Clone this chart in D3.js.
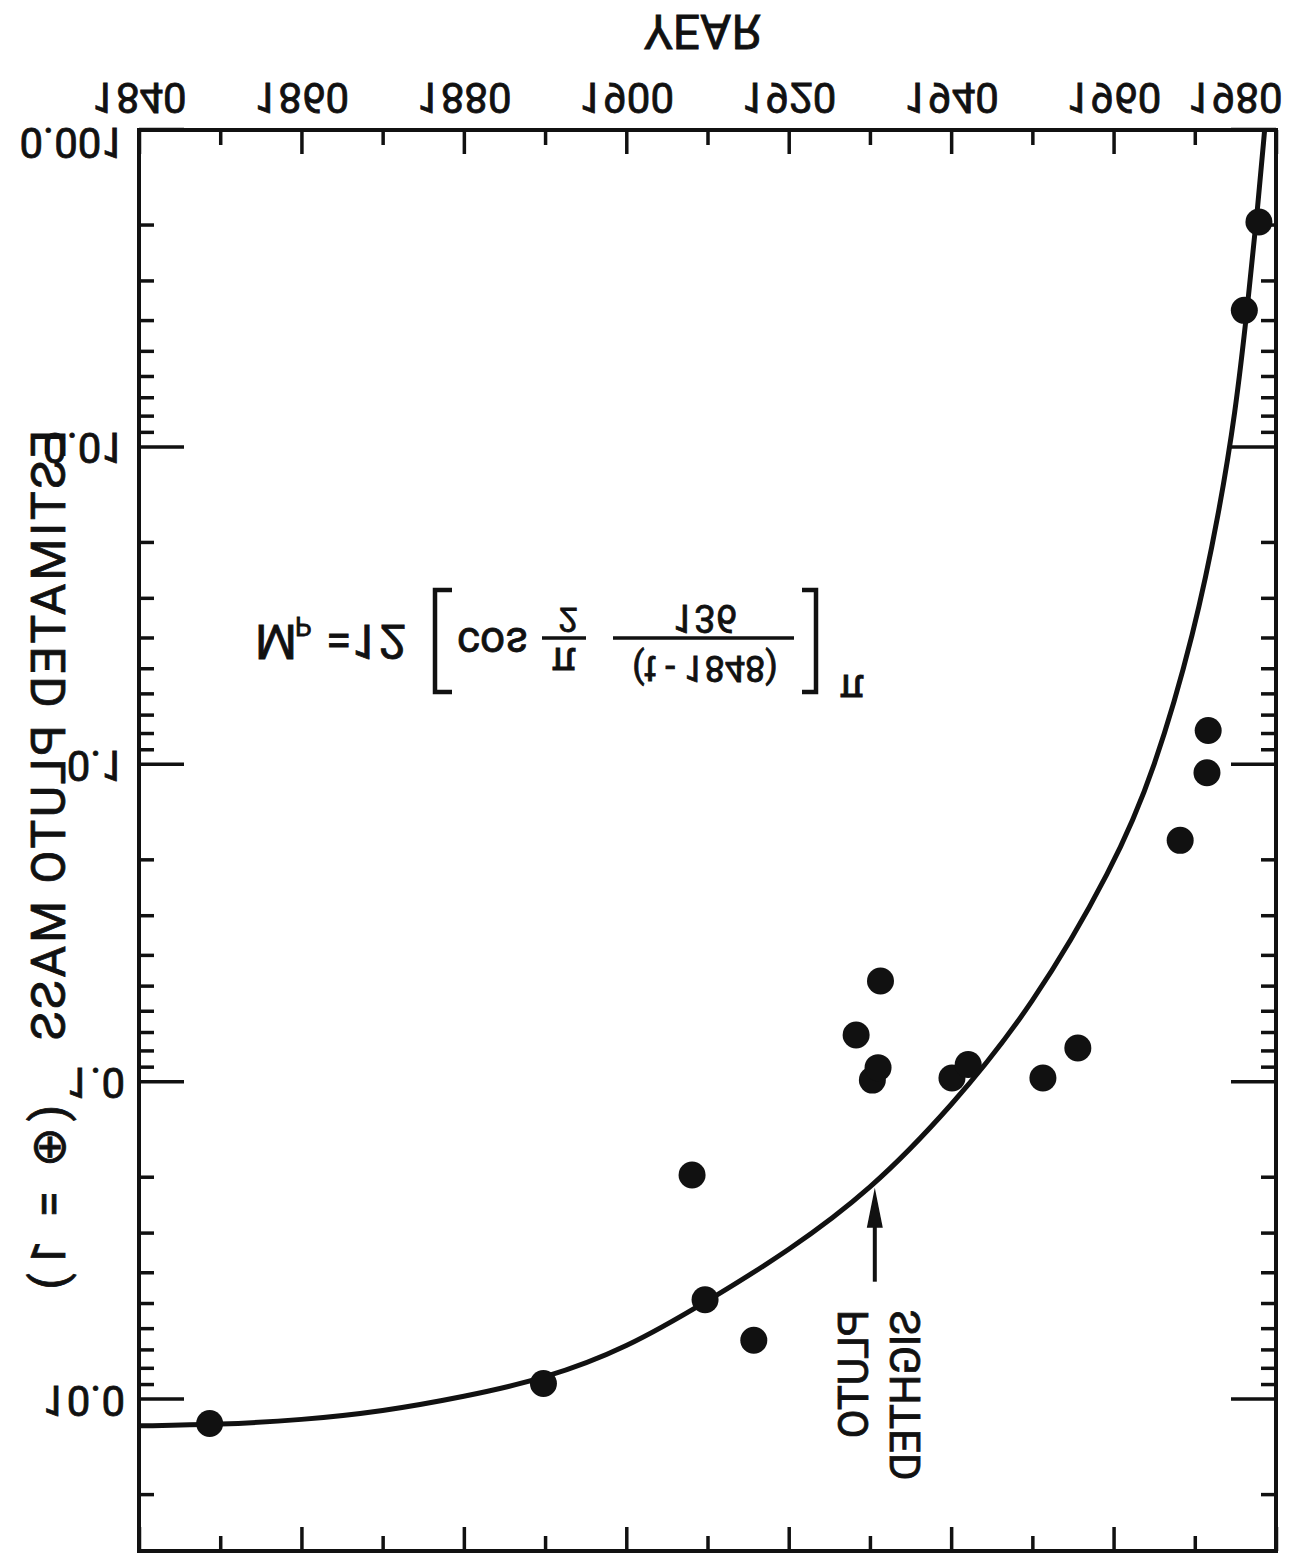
<!DOCTYPE html>
<html>
<head>
<meta charset="UTF-8" />
<style>
    body { margin: 0; padding: 0; background: #fff; }
    svg { display: block; background: #fff; }
    text { font-family: Roboto, "Liberation Sans", Arial, sans-serif; fill: #111; stroke: #111; stroke-width: 0.8px; }
    .frame { fill: none; stroke: #111; stroke-width: 4px; }
    .fit { fill: none; stroke: #111; stroke-width: 5px; }
    .tick line { stroke: #111; stroke-width: 3.5px; }
</style>
<title>Pluto mass</title>
</head>
<body>
<svg width="1300" height="1566"></svg>
<script src="https://d3js.org/d3.v7.min.js"></script>
<script>
    // published estimates of Pluto's mass (earth = 1)
    const estYears = [1848.7, 1889.8, 1908.1, 1909.7, 1915.7, 1928.3, 1930.3, 1931.0, 1931.3,
        1940.1, 1942.1, 1951.3, 1955.6, 1968.2, 1971.5, 1971.65, 1976.1, 1977.9];
    const estMass = [11.9, 8.9, 1.96, 4.85, 6.5, 0.71, 0.985, 0.90, 0.48,
        0.97, 0.88, 0.97, 0.78, 0.173, 0.106, 0.078, 0.0037, 0.00195];

    // the drawn fit curve
    const fitYears = [1840, 1850, 1860, 1870, 1880, 1890, 1900, 1910, 1920, 1930,
        1940, 1950, 1960, 1965, 1970, 1973, 1975, 1976.5, 1977.8, 1978.6];
    const fitMass = [12.1, 12.0, 11.6, 10.9, 9.8, 8.6, 6.9, 4.9, 3.4, 2.2,
        1.2, 0.58, 0.21, 0.105, 0.038, 0.016, 0.0078, 0.0036, 0.0017, 0.001];

    const yearTicks = [1840, 1860, 1880, 1900, 1920, 1940, 1960, 1980];
    const minorYears = [1850, 1870, 1890, 1910, 1930, 1950, 1970];
    const decadeTicks = [0.001, 0.01, 0.1, 1, 10];
    const decadeLabels = ["0.001", "0.01", "0.1", "1.0", "10.0"];

    // where the arrow meets the curve
    const sighted = { year: 1930.6, mass: 2.15 };

    const W = 1300, H = 1566;
    const svg = d3.select("svg");

    // the scan is mirrored top to bottom, so draw the chart the normal way
    // and flip the whole thing
    const g = svg.append("g").attr("transform", `translate(0,${H}) scale(1,-1)`);

    const pL = 139, pR = 1276, pT = 15, pB = 1436;
    const x = d3.scaleLinear().domain([1840, 1980]).range([pL, pR]);
    const y = d3.scaleLog().domain([0.001, 30]).range([pB, pT]);

    const minorMass = y.ticks().filter(d => !decadeTicks.includes(d) && d < 30);

    function styleAxis(sel) {
        sel.select(".domain").remove();
        sel.attr("font-size", 42).attr("font-family", null);
    }

    // x axis along the (original) bottom, with labels
    g.append("g").attr("transform", `translate(0,${pB})`)
        .call(d3.axisBottom(x).tickValues(yearTicks).tickSizeInner(-24).tickSizeOuter(0)
            .tickPadding(17).tickFormat(d3.format("d")))
        .call(styleAxis)
        .selectAll(".tick text")
        .filter(d => d === 1980)
        .attr("text-anchor", "end").attr("x", 6);

    g.append("g").attr("transform", `translate(0,${pB})`)
        .call(d3.axisBottom(x).tickValues(minorYears).tickSizeInner(-15).tickSizeOuter(0).tickFormat(""))
        .call(styleAxis);

    // opposite edge, ticks only
    g.append("g").attr("transform", `translate(0,${pT})`)
        .call(d3.axisTop(x).tickValues(yearTicks).tickSizeInner(-24).tickSizeOuter(0).tickFormat(""))
        .call(styleAxis);
    g.append("g").attr("transform", `translate(0,${pT})`)
        .call(d3.axisTop(x).tickValues(minorYears).tickSizeInner(-15).tickSizeOuter(0).tickFormat(""))
        .call(styleAxis);

    // mass axis, log
    const yAx = g.append("g").attr("transform", `translate(${pL},0)`)
        .call(d3.axisLeft(y).tickValues(decadeTicks).tickSizeInner(-45).tickSizeOuter(0)
            .tickPadding(14).tickFormat((d, i) => decadeLabels[i]))
        .call(styleAxis);
    yAx.selectAll(".tick text").filter(d => d === 0.001).attr("y", -12);

    g.append("g").attr("transform", `translate(${pL},0)`)
        .call(d3.axisLeft(y).tickValues(minorMass).tickSizeInner(-15).tickSizeOuter(0).tickFormat(""))
        .call(styleAxis);

    g.append("g").attr("transform", `translate(${pR},0)`)
        .call(d3.axisRight(y).tickValues(decadeTicks).tickSizeInner(-45).tickSizeOuter(0).tickFormat(""))
        .call(styleAxis);
    g.append("g").attr("transform", `translate(${pR},0)`)
        .call(d3.axisRight(y).tickValues(minorMass).tickSizeInner(-15).tickSizeOuter(0).tickFormat(""))
        .call(styleAxis);

    g.append("rect").attr("class", "frame")
        .attr("x", pL).attr("y", pT)
        .attr("width", pR - pL).attr("height", pB - pT);

    // axis titles
    g.append("text")
        .attr("x", (pL + pR) / 2 - 5).attr("y", 1551)
        .attr("text-anchor", "middle").attr("font-size", 48)
        .text("YEAR");

    g.append("text")
        .attr("transform", "translate(65,1136) rotate(-90)")
        .attr("font-size", 48)
        .attr("textLength", 610).attr("lengthAdjust", "spacing")
        .text("ESTIMATED PLUTO MASS");
    g.append("text")
        .attr("transform", "translate(65,461) rotate(-90)")
        .attr("font-size", 48)
        .attr("textLength", 185).attr("lengthAdjust", "spacing")
        .text("(⊕ = 1)");

    // fitted curve
    const fit = fitYears.map((d, i) => ({ year: d, mass: fitMass[i] }));
    g.append("clipPath").attr("id", "plot")
        .append("rect").attr("x", pL).attr("y", pT)
        .attr("width", pR - pL).attr("height", pB - pT);

    g.append("path").datum(fit)
        .attr("class", "fit")
        .attr("clip-path", "url(#plot)")
        .attr("d", d3.line().x(d => x(d.year)).y(d => y(d.mass)).curve(d3.curveBasis));

    // estimates
    g.selectAll(".est")
        .data(estYears.map((d, i) => ({ year: d, mass: estMass[i] })))
        .enter().append("circle")
        .attr("class", "est")
        .attr("cx", d => x(d.year)).attr("cy", d => y(d.mass))
        .attr("r", 13.5)
        .attr("fill", "#111");

    // "pluto sighted" arrow
    const ax = x(sighted.year), ay = y(sighted.mass);
    g.append("line")
        .attr("x1", ax).attr("x2", ax)
        .attr("y1", ay - 94).attr("y2", ay - 30)
        .attr("stroke", "#111").attr("stroke-width", 4);
    g.append("path")
        .attr("d", `M ${ax} ${ay} L ${ax - 8} ${ay - 40} L ${ax + 8} ${ay - 40} Z`)
        .attr("fill", "#111");

    g.append("text")
        .attr("transform", `translate(${ax - 7},${ay - 122}) rotate(-90)`)
        .attr("font-size", 42)
        .text("PLUTO");
    g.append("text")
        .attr("transform", `translate(${ax + 45},${ay - 122}) rotate(-90)`)
        .attr("font-size", 42)
        .text("SIGHTED");

    // formula  Mp = 12 [cos (pi/2) (t-1848)/136 ]^pi
    const f = g.append("g");
    f.append("text").attr("x", 255).attr("y", 941).attr("font-size", 48).text("M");
    f.append("text").attr("x", 295).attr("y", 949).attr("font-size", 26).text("P");
    f.append("text").attr("x", 326).attr("y", 941).attr("font-size", 46).text("=");
    f.append("text").attr("x", 352).attr("y", 941).attr("font-size", 48).text("12");
    f.append("path")
        .attr("d", "M 452 874 L 435 874 L 435 976 L 452 976")
        .attr("fill", "none").attr("stroke", "#111").attr("stroke-width", 4.5);
    f.append("text").attr("x", 457).attr("y", 938).attr("font-size", 44).text("cos");
    f.append("line").attr("x1", 542).attr("x2", 586).attr("y1", 928).attr("y2", 928)
        .attr("stroke", "#111").attr("stroke-width", 3.5);
    f.append("text").attr("x", 564).attr("y", 918).attr("text-anchor", "middle")
        .attr("font-size", 40).text("π");
    f.append("text").attr("x", 568).attr("y", 958).attr("text-anchor", "middle")
        .attr("font-size", 34).text("2");
    f.append("line").attr("x1", 613).attr("x2", 794).attr("y1", 928).attr("y2", 928)
        .attr("stroke", "#111").attr("stroke-width", 3.5);
    f.append("text").attr("x", 705).attr("y", 910).attr("text-anchor", "middle")
        .attr("font-size", 36).text("(t - 1848)");
    f.append("text").attr("x", 705).attr("y", 961).attr("text-anchor", "middle")
        .attr("font-size", 38).text("136");
    f.append("path")
        .attr("d", "M 802 874 L 816 874 L 816 976 L 802 976")
        .attr("fill", "none").attr("stroke", "#111").attr("stroke-width", 4.5);
    f.append("text").attr("x", 852).attr("y", 891).attr("text-anchor", "middle")
        .attr("font-size", 40).text("π");
</script>
</body>
</html>
